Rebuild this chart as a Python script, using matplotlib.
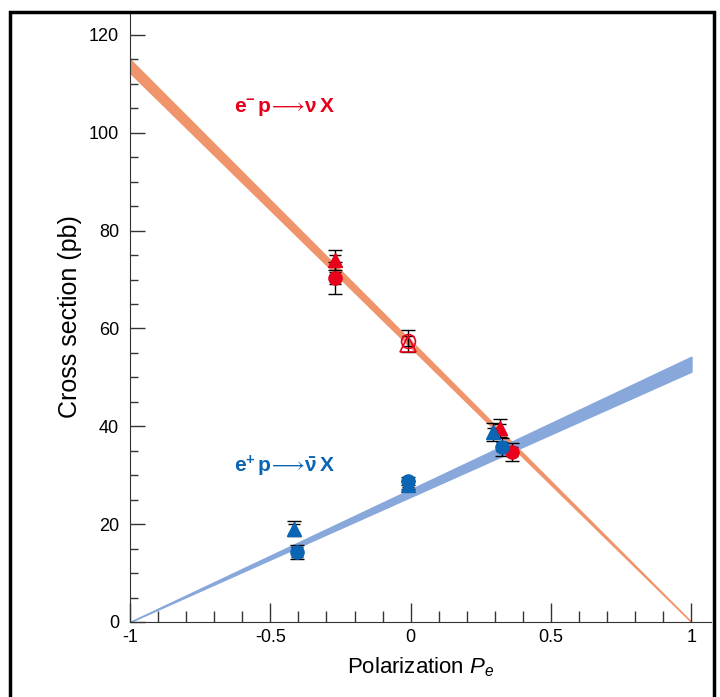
import matplotlib
matplotlib.use("Agg")
import matplotlib.pyplot as plt
from matplotlib.ticker import MultipleLocator
from matplotlib.patches import Rectangle

plt.rcParams['font.family'] = ['Liberation Sans', 'DejaVu Sans']
plt.rcParams['mathtext.fontset'] = 'custom'
plt.rcParams['mathtext.rm'] = 'Liberation Sans'
plt.rcParams['mathtext.it'] = 'Liberation Sans:italic'
plt.rcParams['mathtext.bf'] = 'Liberation Sans:bold'
plt.rcParams['mathtext.fallback'] = 'stixsans'

# ---- data ----
# fit bands (P, low, high)
fit_P = [-1.0, 1.0]
em_fit_lo = [112.3, 0.0]
em_fit_hi = [115.0, 0.0]
ep_fit_lo = [0.0, 51.2]
ep_fit_hi = [0.0, 54.2]

# e- p: filled circles
em_circ_P = [-0.27, 0.36]
em_circ_y = [70.3, 34.8]
em_circ_stat = [1.3, 0.9]
em_circ_tot = [3.3, 1.8]
# e- p: filled triangles
em_tri_P = [-0.27, 0.32]
em_tri_y = [74.0, 39.6]
em_tri_stat = [1.1, 0.9]
em_tri_tot = [2.0, 1.8]
# e- p: open (unpolarised) points
em_open_circ_P = [-0.01]
em_open_circ_y = [57.4]
em_open_tri_P = [-0.01]
em_open_tri_y = [56.8]
em_open_stat = [1.0]
em_open_tot = [2.3]

# e+ p: filled circles
ep_circ_P = [-0.405, -0.01, 0.325]
ep_circ_y = [14.3, 28.8, 35.8]
ep_circ_stat = [1.0, 0.5, 0.9]
ep_circ_tot = [1.5, 0.8, 1.9]
# e+ p: filled triangles
ep_tri_P = [-0.415, -0.01, 0.295]
ep_tri_y = [19.1, 28.0, 38.8]
ep_tri_stat = [1.0, 0.5, 0.9]
ep_tri_tot = [1.5, 0.8, 1.8]

xticks = [-1, -0.5, 0, 0.5, 1]
xticklabels = ['-1', '-0.5', '0', '0.5', '1']
yticks = [0, 20, 40, 60, 80, 100, 120]

RED_BAND = '#F0946C'
BLUE_BAND = '#88A8DB'
RED = '#E8001C'
BLUE = '#0A66B4'

fig = plt.figure(figsize=(7.2, 6.97), dpi=100)
ax = fig.add_axes([130/720, 1 - 622/697, 581/720, 610/697])

ax.fill_between(fit_P, em_fit_lo, em_fit_hi, color=RED_BAND, lw=1.2, ec=RED_BAND, zorder=1)
ax.fill_between(fit_P, ep_fit_lo, ep_fit_hi, color=BLUE_BAND, lw=1.2, ec=BLUE_BAND, zorder=1)

def errs(P, y, stat, tot):
    ax.errorbar(P, y, yerr=tot, fmt='none', ecolor='black', elinewidth=1.0,
                capsize=5, capthick=1.0, zorder=2)
    ax.errorbar(P, y, yerr=stat, fmt='none', ecolor='black', elinewidth=1.0,
                capsize=4, capthick=1.0, zorder=2)

errs(em_circ_P, em_circ_y, em_circ_stat, em_circ_tot)
errs(em_tri_P, em_tri_y, em_tri_stat, em_tri_tot)
errs(em_open_circ_P, em_open_circ_y, em_open_stat, em_open_tot)
errs(ep_circ_P, ep_circ_y, ep_circ_stat, ep_circ_tot)
errs(ep_tri_P, ep_tri_y, ep_tri_stat, ep_tri_tot)

ax.plot(em_circ_P, em_circ_y, 'o', color=RED, ms=9.5, zorder=3)
ax.plot(em_tri_P, em_tri_y, '^', color=RED, ms=10.5, zorder=3)
ax.plot(em_open_circ_P, em_open_circ_y, 'o', mfc='none', mec=RED, mew=1.2, ms=10, zorder=3)
ax.plot(em_open_tri_P, em_open_tri_y, '^', mfc='none', mec=RED, mew=1.2, ms=11, zorder=3)
ax.plot(ep_tri_P, ep_tri_y, '^', color=BLUE, ms=10.5, zorder=3)
ax.plot(ep_circ_P, ep_circ_y, 'o', color=BLUE, ms=9.5, zorder=3)

ax.set_xlim(-1, 2.07 - 1)
ax.set_ylim(0, 124.7)
ax.spines['top'].set_visible(False)
ax.spines['right'].set_visible(False)
ax.spines['left'].set_color('#333333')
ax.spines['bottom'].set_color('#333333')

ax.set_xticks(xticks)
ax.set_xticklabels(xticklabels)
ax.xaxis.set_minor_locator(MultipleLocator(0.1))
ax.set_yticks(yticks)
ax.yaxis.set_minor_locator(MultipleLocator(5))
ax.tick_params(axis='both', which='major', direction='in', labelsize=13, color='#333333')
ax.tick_params(axis='x', which='major', length=14, width=1.0, pad=5)
ax.tick_params(axis='x', which='minor', direction='in', length=8, width=1.0, color='#333333')
ax.tick_params(axis='y', which='major', length=11, width=1.0, pad=8)
ax.tick_params(axis='y', which='minor', direction='in', length=6, width=1.0, color='#333333')

ax.set_ylabel('Cross section (pb)', fontsize=18, labelpad=5)
ax.set_xlabel('Polarization $P_e$', fontsize=16, labelpad=7)

ax.text(-0.63, 105.2, r'$\mathbf{e^{-}\,p}\!\longrightarrow\!\mathbf{\nu\,X}$', color=RED,
        fontsize=15, va='center')
ax.text(-0.63, 31.8, r'$\mathbf{e^{+}\,p}\!\longrightarrow\!\mathbf{\bar{\nu}\,X}$', color=BLUE,
        fontsize=15, va='center')

fig.patches.append(Rectangle((10/720, -0.02), 704/720, 1.02 - 12/697, transform=fig.transFigure,
                             fill=False, ec='black', lw=2.5))

fig.savefig('out.png', dpi=100)
